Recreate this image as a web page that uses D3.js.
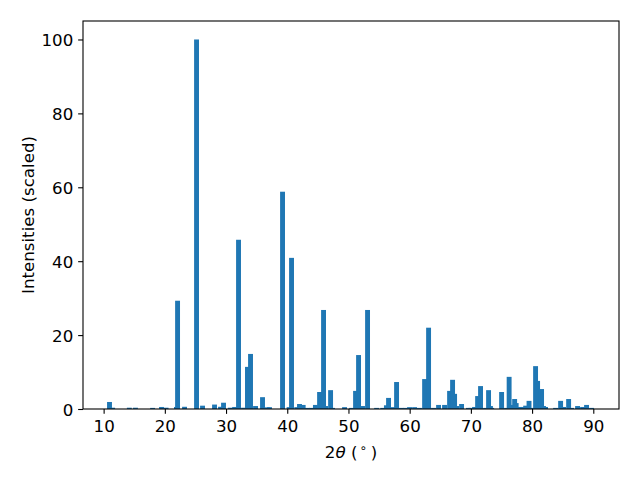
<!DOCTYPE html>
<html>
<head>
<meta charset="utf-8">
<script src="https://cdn.jsdelivr.net/npm/d3@7"></script>
<style>
  html, body { margin: 0; padding: 0; background: #fff; }
  svg { display: block; }
  text { font-family: "DejaVu Sans", sans-serif; fill: #000; }
</style>
</head>
<body>
<svg id="chart" width="640" height="480"></svg>
<script>
// 2θ peak positions (degrees)
const twoTheta = [
  10.96, 11.47, 14.2, 15.2, 18.0, 19.46, 20.2, 21.9, 22.08, 23.22,
  25.18, 26.16, 28.12, 29.1, 29.59, 30.7, 31.4, 32.04, 32.86, 33.5,
  34.0, 34.82, 35.96, 36.75, 37.1, 39.23, 40.3, 40.7, 41.55, 42.0,
  42.6, 43.3, 44.0, 44.6, 45.28, 45.93, 46.27, 47.08, 47.4, 49.36,
  50.5, 51.16, 51.65, 52.3, 53.12, 54.6, 55.6, 56.2, 56.55, 57.35,
  57.86, 58.6, 59.3, 59.98, 60.8, 61.6, 62.44, 63.09, 63.9, 64.72,
  65.7, 66.52, 67.01, 67.34, 67.66, 68.48, 69.6, 70.0, 70.6, 71.1,
  71.58, 72.4, 72.89, 73.2, 73.4, 75.02, 75.83, 76.25, 76.7, 77.15,
  77.4, 77.95, 78.5, 78.95, 79.5, 79.85, 80.57, 80.9, 81.55, 81.87,
  82.2, 83.84, 84.66, 85.15, 85.97, 86.45, 87.43, 88.25, 88.9, 89.72
];
// scaled intensities
const intensity = [
  1.9, 0.35, 0.35, 0.35, 0.3, 0.55, 0.35, 0.55, 29.3, 0.6,
  100, 0.9, 1.2, 0.6, 1.7, 0.35, 0.55, 45.8, 0.35, 11.4,
  14.9, 0.8, 3.2, 0.45, 0.5, 58.8, 0.5, 40.9, 0.5, 1.35,
  1.1, 0.3, 0.3, 1.1, 4.6, 26.8, 0.8, 5.1, 0.3, 0.5,
  0.3, 4.9, 14.6, 0.8, 26.8, 0.3, 0.3, 1.0, 3.0, 0.5,
  7.3, 0.3, 0.3, 0.5, 0.5, 0.3, 8.1, 22.0, 0.3, 1.1,
  1.1, 4.9, 7.9, 4.1, 0.8, 1.35, 0.3, 0.3, 0.55, 3.5,
  6.2, 0.3, 5.1, 0.8, 0.3, 4.6, 0.3, 8.7, 1.1, 2.7,
  1.6, 0.55, 0.55, 0.9, 2.2, 0.3, 11.6, 7.6, 5.4, 0.8,
  0.55, 0.3, 2.2, 0.55, 2.7, 0.3, 0.8, 0.55, 1.1, 0.3
];
const xTicks = [10, 20, 30, 40, 50, 60, 70, 80, 90];
const yTicks = [0, 20, 40, 60, 80, 100];
const barWidth = 0.8;

(function () {
  const data = twoTheta.map((t, i) => ({ t, v: intensity[i] }))
    .sort((a, b) => a.v - b.v);

  const svg = d3.select("#chart");
  const mLeft = 83, mRight = 619, mTop = 21, mBottom = 409;
  const fs = 16.67, tick = 4.86, pad = 4.86;

  const x = d3.scaleLinear().domain([6.63, 94.2]).range([mLeft, mRight]);
  const y = d3.scaleLinear().domain([0, 105]).range([mBottom, mTop]);

  svg.append("g").selectAll("rect").data(data).join("rect")
    .attr("x", d => x(d.t - barWidth / 2))
    .attr("width", d => x(d.t + barWidth / 2) - x(d.t - barWidth / 2))
    .attr("y", d => y(d.v))
    .attr("height", d => y(0) - y(d.v))
    .attr("fill", "#1f77b4");

  const xAxis = svg.append("g").attr("transform", `translate(0,${mBottom})`)
    .call(d3.axisBottom(x).tickValues(xTicks).tickFormat(d3.format("d"))
      .tickSize(tick).tickPadding(pad));
  const yAxis = svg.append("g").attr("transform", `translate(${mLeft},0)`)
    .call(d3.axisLeft(y).tickValues(yTicks).tickFormat(d3.format("d"))
      .tickSize(tick).tickPadding(pad));
  [xAxis, yAxis].forEach(g => {
    g.select(".domain").remove();
    g.selectAll(".tick line").attr("stroke", "#000").attr("stroke-width", 1.1);
    g.selectAll(".tick text").attr("font-size", fs)
      .attr("font-family", "DejaVu Sans").attr("fill", "#000");
  });
  xAxis.selectAll(".tick text").attr("dy", null).attr("y", 431.5 - mBottom);
  yAxis.selectAll(".tick text").attr("dy", "0.36em");

  svg.append("rect")
    .attr("x", mLeft).attr("y", mTop)
    .attr("width", mRight - mLeft).attr("height", mBottom - mTop)
    .attr("fill", "none").attr("stroke", "#000").attr("stroke-width", 1.1);

  svg.append("text")
    .attr("transform", `translate(34,${(mTop + mBottom) / 2}) rotate(-90)`)
    .attr("text-anchor", "middle").attr("font-size", fs)
    .text("Intensities (scaled)");

  const xl = svg.append("text")
    .attr("x", (mLeft + mRight) / 2).attr("y", 457.5)
    .attr("text-anchor", "middle").attr("font-size", fs);
  xl.append("tspan").text("2");
  xl.append("tspan").attr("font-style", "italic").text("θ");
  xl.append("tspan").text("\u00a0(");
  xl.append("tspan").attr("font-size", fs * 0.7).attr("dx", 2).attr("dy", -6).text("∘");
  xl.append("tspan").attr("dx", 4).attr("dy", 6).text(")");
})();
</script>
</body>
</html>
